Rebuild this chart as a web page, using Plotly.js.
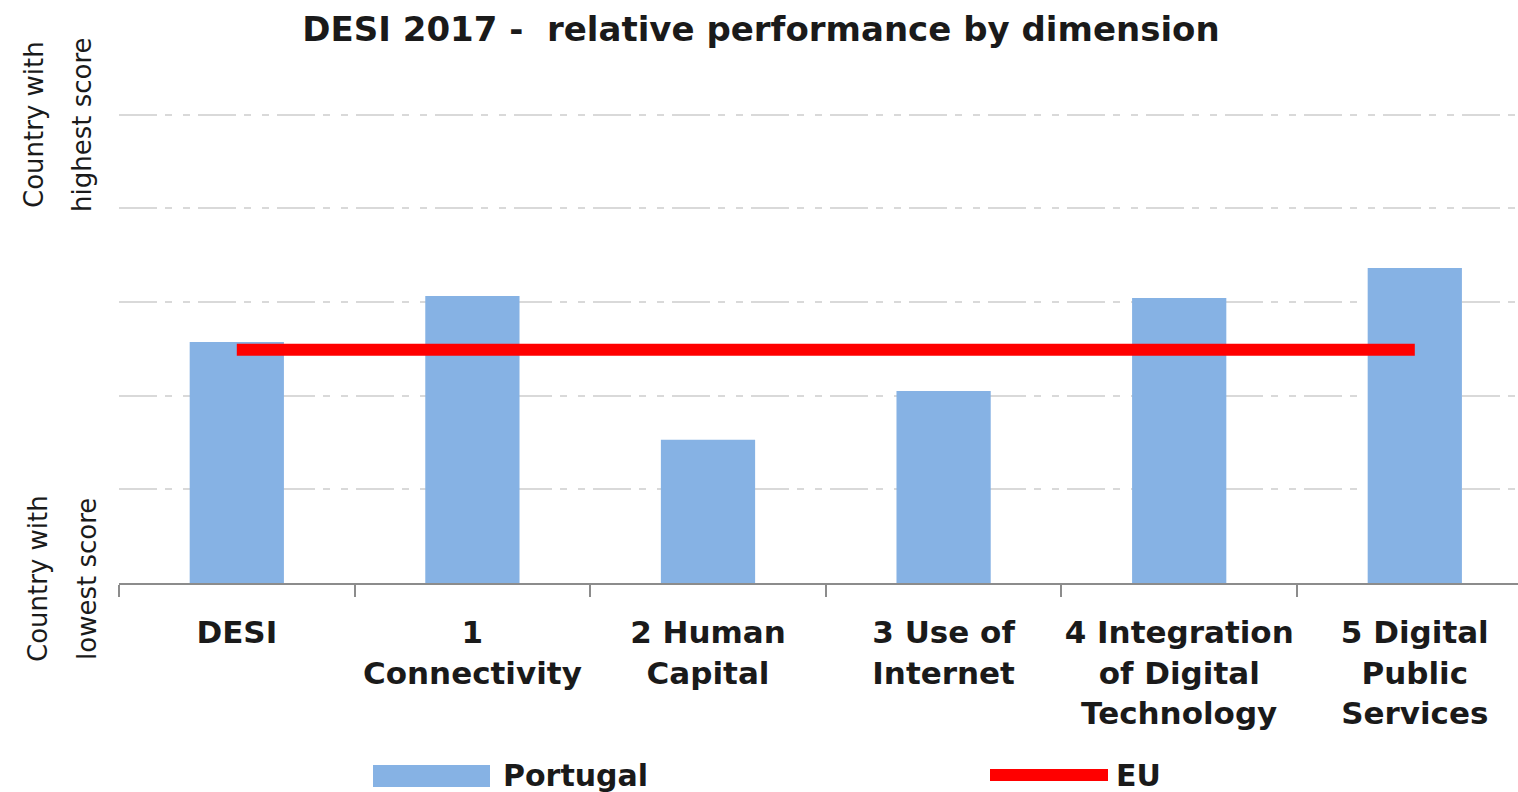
<!DOCTYPE html>
<html>
<head>
<meta charset="utf-8">
<script src="https://cdn.plot.ly/plotly-3.0.1.min.js"></script>
<style>html,body{margin:0;padding:0;background:#fff;}#chart{width:1518px;height:792px;}</style>
</head>
<body>
<div id="chart"></div>
<script>
const categories = ["DESI", "1<br>Connectivity", "2 Human<br>Capital", "3 Use of<br>Internet", "4 Integration<br>of Digital<br>Technology", "5 Digital<br>Public<br>Services"];
const portugal = [0.515, 0.613, 0.306, 0.410, 0.609, 0.673];
const eu = [0.498, 0.498, 0.498, 0.498, 0.498, 0.498];
const seriesNames = ["Portugal", "EU"];
const yLabelTop = ["Country with", "highest score"];
const yLabelBottom = ["Country with", "lowest score"];
const titleText = "DESI 2017 -\u00a0 relative performance by dimension";

const W = 1518, H = 792;
const L = 119, R = 0, T = 68, B = 209;
const pw = W - L - R, ph = H - T - B;
const px = x => (x - L) / pw;
const py = y => (H - B - y) / ph;

const font = "DejaVu Sans, Verdana, sans-serif";
const txt = "#1a1a1a";
const blue = "#86b2e4";
const red = "#ff0000";

const traces = [
  {type: "bar", x: categories, y: portugal, name: seriesNames[0], marker: {color: blue}, width: 0.4, hoverinfo: "none"},
  {type: "scatter", mode: "lines", x: categories, y: eu, name: seriesNames[1], line: {color: red, width: 12}, hoverinfo: "none"}
];

const annotations = [
  {text: yLabelTop[0], x: px(34), y: py(125)},
  {text: yLabelTop[1], x: px(82), y: py(125)},
  {text: yLabelBottom[0], x: px(38), y: py(579)},
  {text: yLabelBottom[1], x: px(87), y: py(579)}
].map(a => Object.assign(a, {xref: "paper", yref: "paper", textangle: -90, showarrow: false,
  xanchor: "center", yanchor: "middle", font: {family: font, size: 26, color: txt}}));

annotations.push({text: seriesNames[0], xref: "paper", yref: "paper", x: px(501), y: py(775), xanchor: "left", yanchor: "middle", showarrow: false, font: {family: font, size: 30, color: txt, weight: "bold"}});
annotations.push({text: seriesNames[1], xref: "paper", yref: "paper", x: px(1114), y: py(775), xanchor: "left", yanchor: "middle", showarrow: false, font: {family: font, size: 30, color: txt, weight: "bold"}});

const shapes = [
  {type: "rect", xref: "paper", yref: "paper", x0: px(373), x1: px(490), y0: py(787), y1: py(765), fillcolor: blue, line: {width: 0}},
  {type: "line", xref: "paper", yref: "paper", x0: px(990), x1: px(1108), y0: py(775), y1: py(775), line: {color: red, width: 12}}
];

const layout = {
  width: W, height: H,
  margin: {l: L, r: R, t: T, b: B, pad: 0},
  paper_bgcolor: "#fff", plot_bgcolor: "#fff",
  showlegend: false,
  title: {text: titleText, x: 761 / W, xanchor: "center", xref: "container", yref: "container", y: 1 - 29 / H, yanchor: "middle",
    font: {family: font, size: 34, color: txt, weight: "bold"}},
  xaxis: {type: "category", range: [-0.5, -0.5 + pw / 235.6], tickson: "boundaries", ticks: "outside", ticklen: 12, tickwidth: 2, tickcolor: "#8c8c8c",
    showline: true, linecolor: "#8c8c8c", linewidth: 2, showgrid: false, zeroline: false, fixedrange: true,
    ticklabelstandoff: 21, tickangle: 0,
    tickfont: {family: font, size: 31, color: txt, weight: "bold"}},
  yaxis: {range: [0, 1.1], dtick: 0.2, tick0: 0, showticklabels: false, ticks: "", showline: false, zeroline: false,
    showgrid: true, gridcolor: "#d9d9d9", gridwidth: 2, griddash: "38px,8px,7px,11px,7px,8px", fixedrange: true},
  annotations: annotations,
  shapes: shapes
};

Plotly.newPlot("chart", traces, layout, {displayModeBar: false, staticPlot: true});
</script>
</body>
</html>
